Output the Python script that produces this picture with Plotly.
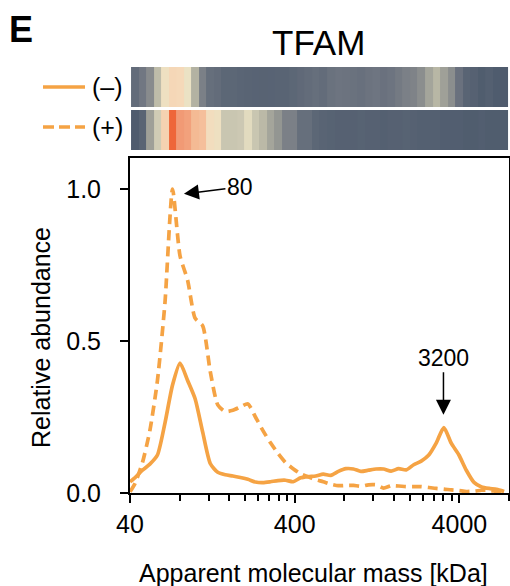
import numpy as np
import plotly.graph_objects as go

# ---------------- data ----------------
fraction_mass_kda = [42.8, 47.6, 52.8, 58.7, 65.2, 72.5, 80.5, 89.5, 99.4, 110.5,
                     122.8, 136.4, 151.5, 168.4, 187.1, 207.9, 231.0, 256.6, 285.2, 316.9,
                     352.1, 391.2, 434.6, 482.9, 536.6, 596.2, 662.4, 736.1, 817.8, 908.7,
                     1009.7, 1121.9, 1246.5, 1385.0, 1538.9, 1710.0, 1900.0, 2111.0, 2345.0, 2606.0,
                     2896.0, 3217.0, 3575.0, 3972.0, 4413.0, 4904.0, 5449.0, 6054.0, 6727.0, 7474.0]

# profile curves (first point at the 40 kDa axis edge, then one per fraction)
curve_mass_kda = [40.0] + fraction_mass_kda

abundance_minus = [0.037,
                   0.05, 0.075, 0.095, 0.125, 0.23, 0.355, 0.427, 0.37, 0.31, 0.20,
                   0.097, 0.068, 0.06, 0.056, 0.051, 0.045, 0.036, 0.034, 0.037, 0.041,
                   0.042, 0.037, 0.05, 0.054, 0.056, 0.062, 0.058, 0.071, 0.08, 0.079,
                   0.071, 0.075, 0.079, 0.079, 0.072, 0.08, 0.076, 0.093, 0.105, 0.125,
                   0.165, 0.215, 0.163, 0.125, 0.074, 0.035, 0.02, 0.015, 0.012, 0.005]

abundance_plus = [0.004,
                  0.03, 0.10, 0.205, 0.37, 0.625, 1.0, 0.78, 0.70, 0.575, 0.55,
                  0.40, 0.29, 0.268, 0.272, 0.283, 0.293, 0.25, 0.205, 0.165, 0.13,
                  0.10, 0.08, 0.063, 0.053, 0.044, 0.037, 0.029, 0.024, 0.025, 0.025,
                  0.022, 0.027, 0.027, 0.016, 0.024, 0.023, 0.021, 0.021, 0.021, 0.018,
                  0.015, 0.013, 0.010, 0.008, 0.005, 0.006, 0.009, 0.009, 0.005, 0.002]

# heat strips (one cell per fraction)
heat_minus = [0.055, 0.075, 0.11, 0.22, 0.36, 0.42, 0.41, 0.34, 0.19, 0.09,
              0.06, 0.055, 0.045, 0.045, 0.042, 0.04, 0.038, 0.036, 0.038, 0.04,
              0.04, 0.045, 0.05, 0.055, 0.06, 0.055, 0.066, 0.07, 0.068, 0.066,
              0.063, 0.068, 0.072, 0.065, 0.07, 0.08, 0.09, 0.095, 0.115, 0.16,
              0.20, 0.15, 0.115, 0.065, 0.04, 0.03, 0.015, 0.025, 0.012, 0.01]

heat_plus = [0.01, 0.04, 0.15, 0.28, 0.45, 1.0, 0.76, 0.72, 0.58, 0.55,
             0.38, 0.36, 0.26, 0.26, 0.27, 0.32, 0.26, 0.21, 0.16, 0.13,
             0.09, 0.09, 0.06, 0.06, 0.045, 0.04, 0.035, 0.03, 0.03, 0.03,
             0.035, 0.03, 0.03, 0.025, 0.03, 0.03, 0.035, 0.03, 0.025, 0.025,
             0.025, 0.02, 0.02, 0.02, 0.015, 0.015, 0.02, 0.015, 0.015, 0.015]

condition_labels = ["(–)", "(+)"]
x_major_ticks = [40, 400, 4000]
x_minor_ticks = [80, 120, 160, 200, 240, 280, 320, 360,
                 800, 1200, 1600, 2000, 2400, 2800, 3200, 3600, 8000]
y_ticks = [0.0, 0.5, 1.0]
peak_labels = [(85, 0.984, "80"), (3200, 0.257, "3200")]

# ---------------- style ----------------
FONT = "Liberation Sans, Arial, sans-serif"
ORANGE = "#f5a344"
X_MIN, X_MAX = 40, 8000

colorscale = [
    [0.00, "#4b586b"], [0.04, "#596474"], [0.07, "#6d7480"], [0.10, "#82868a"],
    [0.15, "#9fa098"], [0.20, "#b8b7a5"], [0.27, "#ccc8b3"], [0.34, "#ebe2c4"],
    [0.40, "#f5dbbb"], [0.50, "#f5c8a6"], [0.60, "#f4b690"], [0.75, "#f19c77"],
    [1.00, "#ee6639"],
]

log_mass = np.log10(fraction_mass_kda)

fig = go.Figure()

# heatmap strips
for z, xa, ya in [(heat_minus, "x2", "y2"), (heat_plus, "x3", "y3")]:
    fig.add_trace(go.Heatmap(
        x=log_mass, y=[0], z=[z], zmin=0, zmax=1, colorscale=colorscale,
        showscale=False, hoverinfo="skip", xaxis=xa, yaxis=ya,
    ))

# profiles
fig.add_trace(go.Scatter(
    x=curve_mass_kda, y=abundance_minus, mode="lines", name=condition_labels[0],
    line=dict(color=ORANGE, width=3.7, shape="spline", smoothing=0.6),
    showlegend=False,
))
fig.add_trace(go.Scatter(
    x=curve_mass_kda, y=abundance_plus, mode="lines", name=condition_labels[1],
    line=dict(color=ORANGE, width=3.7, dash="10px,6px", shape="spline", smoothing=0.6),
    showlegend=False,
))

L, R, T, B = 130, 1, 0, 93
W, H = 510, 586
PW, PH = W - L - R, H - T - B


def px(xp):
    return (xp - L) / PW


def py(yp):
    return (H - B - yp) / PH


main_top = py(158)
fig.update_layout(
    width=W, height=H,
    margin=dict(l=L, r=R, t=T, b=B, autoexpand=False),
    paper_bgcolor="white", plot_bgcolor="white",
    font=dict(family=FONT, color="black", size=25),
    xaxis=dict(
        type="log", range=[np.log10(X_MIN), np.log10(X_MAX)], domain=[0, 1],
        tickvals=x_major_ticks, ticktext=[str(v) for v in x_major_ticks],
        ticks="outside", ticklen=8, tickwidth=2, tickcolor="black",
        minor=dict(tickvals=x_minor_ticks, ticks="outside", ticklen=6, tickwidth=1.5, tickcolor="black"),
        showline=True, linewidth=2, linecolor="black", mirror=True,
        showgrid=False, zeroline=False, tickfont=dict(size=25), anchor="y",
    ),
    yaxis=dict(
        range=[0, 1.102], domain=[0, main_top],
        tickvals=y_ticks, ticktext=[f"{v:.1f}" for v in y_ticks],
        ticks="outside", ticklen=8, tickwidth=2, tickcolor="black",
        showline=True, linewidth=2, linecolor="black", mirror=True,
        showgrid=False, zeroline=False, tickfont=dict(size=25), ticklabelstandoff=14,
    ),
    xaxis2=dict(range=[np.log10(X_MIN), np.log10(X_MAX)], domain=[0, 1], anchor="y2",
                visible=False),
    yaxis2=dict(range=[-0.5, 0.5], domain=[py(107), py(67)], anchor="x2", visible=False),
    xaxis3=dict(range=[np.log10(X_MIN), np.log10(X_MAX)], domain=[0, 1], anchor="y3",
                visible=False),
    yaxis3=dict(range=[-0.5, 0.5], domain=[py(150), py(110)], anchor="x3", visible=False),
)

# legend keys (drawn beside the strips)
fig.add_shape(type="line", xref="paper", yref="paper", x0=px(43), x1=px(85), y0=py(87), y1=py(87),
              line=dict(color=ORANGE, width=3.7))
fig.add_shape(type="line", xref="paper", yref="paper", x0=px(43), x1=px(85), y0=py(127), y1=py(127),
              line=dict(color=ORANGE, width=3.7, dash="11px,5px"))

annotations = [
    dict(text=condition_labels[0], x=px(107), y=py(87), font=dict(size=25)),
    dict(text=condition_labels[1], x=px(107), y=py(127), font=dict(size=25)),
    dict(text="TFAM", x=px(318), y=py(42), font=dict(size=35)),
    dict(text="<b>E</b>", x=px(21), y=py(29), font=dict(size=36)),
    dict(text="Relative abundance", x=px(41), y=py(338), textangle=-90, font=dict(size=25)),
    dict(text="Apparent molecular mass [kDa]", x=px(313), y=py(573), font=dict(size=25)),
]
for a in annotations:
    fig.add_annotation(xref="paper", yref="paper", showarrow=False,
                       xanchor="center", yanchor="middle", **a)

offsets = {"80": (56, -7), "3200": (0, -57)}
for xm, yv, txt in peak_labels:
    ax, ay = offsets[txt]
    fig.add_annotation(x=np.log10(xm), y=yv, xref="x", yref="y", text=txt,
                       showarrow=True, arrowhead=2, arrowsize=2, arrowwidth=1.5,
                       arrowcolor="black", ax=ax, ay=ay, font=dict(size=23))

fig.write_html(
    "out.html",
    config={"displayModeBar": False},
    post_script="document.body.style.margin='0';document.body.style.overflow='hidden';",
)
